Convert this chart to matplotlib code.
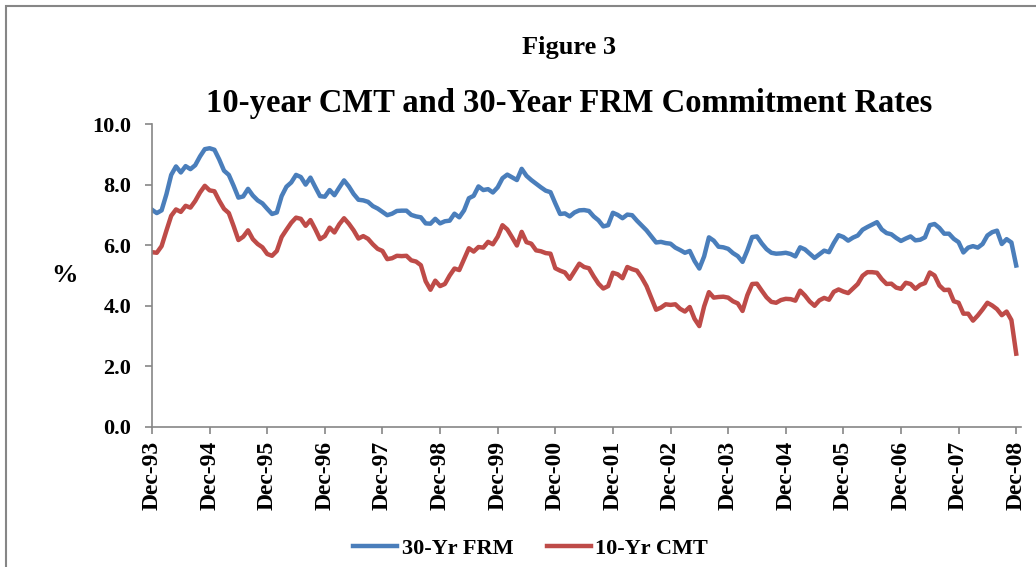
import matplotlib.pyplot as plt
import matplotlib.patches as mpatches

# monthly rates, Dec-93 .. Dec-08
frm_30yr = [
    7.17,
    7.06, 7.15, 7.68, 8.32, 8.60, 8.40, 8.61, 8.51, 8.64, 8.93, 9.17, 9.20,
    9.15, 8.83, 8.46, 8.32, 7.96, 7.57, 7.61, 7.86, 7.64, 7.48, 7.38, 7.20,
    7.03, 7.08, 7.62, 7.93, 8.07, 8.32, 8.25, 8.00, 8.23, 7.92, 7.62, 7.60,
    7.82, 7.65, 7.90, 8.14, 7.94, 7.69, 7.50, 7.48, 7.43, 7.29, 7.21, 7.10,
    6.99, 7.04, 7.13, 7.14, 7.14, 7.00, 6.95, 6.92, 6.72, 6.71, 6.87, 6.72,
    6.79, 6.81, 7.04, 6.92, 7.15, 7.55, 7.63, 7.94, 7.82, 7.85, 7.74, 7.91,
    8.21, 8.33, 8.24, 8.15, 8.52, 8.29, 8.15, 8.03, 7.91, 7.80, 7.75, 7.38,
    7.03, 7.05, 6.95, 7.08, 7.15, 7.16, 7.13, 6.95, 6.82, 6.62, 6.66, 7.07,
    7.00, 6.89, 7.01, 6.99, 6.81, 6.65, 6.49, 6.29, 6.09, 6.11, 6.07, 6.05,
    5.92, 5.84, 5.75, 5.81, 5.48, 5.23, 5.63, 6.26, 6.15, 5.95, 5.93, 5.88,
    5.74, 5.64, 5.45, 5.83, 6.27, 6.29, 6.06, 5.87, 5.75, 5.72, 5.73, 5.75,
    5.71, 5.63, 5.93, 5.86, 5.72, 5.58, 5.70, 5.82, 5.77, 6.07, 6.33, 6.27,
    6.15, 6.25, 6.32, 6.51, 6.60, 6.68, 6.76, 6.52, 6.40, 6.36, 6.24, 6.14,
    6.22, 6.29, 6.16, 6.18, 6.26, 6.66, 6.70, 6.57, 6.38, 6.38, 6.21, 6.10,
    5.76, 5.92, 5.97, 5.92, 6.04, 6.32, 6.43, 6.48, 6.04, 6.20, 6.09, 5.33,
]

cmt_10yr = [
    5.77,
    5.75, 5.97, 6.48, 6.97, 7.18, 7.10, 7.30, 7.24, 7.46, 7.74, 7.96, 7.81,
    7.78, 7.47, 7.20, 7.06, 6.63, 6.17, 6.28, 6.49, 6.20, 6.04, 5.93, 5.71,
    5.65, 5.81, 6.27, 6.51, 6.74, 6.91, 6.87, 6.64, 6.83, 6.53, 6.20, 6.30,
    6.58, 6.42, 6.69, 6.89, 6.71, 6.49, 6.22, 6.30, 6.21, 6.03, 5.88, 5.81,
    5.54, 5.57, 5.65, 5.64, 5.65, 5.50, 5.46, 5.34, 4.81, 4.53, 4.83, 4.65,
    4.72, 5.00, 5.23, 5.18, 5.54, 5.90, 5.79, 5.94, 5.92, 6.11, 6.03, 6.28,
    6.66, 6.52, 6.26, 5.99, 6.44, 6.10, 6.05, 5.83, 5.80, 5.74, 5.72, 5.24,
    5.16, 5.10, 4.89, 5.14, 5.39, 5.28, 5.24, 4.97, 4.73, 4.57, 4.65, 5.09,
    5.04, 4.91, 5.28, 5.21, 5.16, 4.93, 4.65, 4.26, 3.87, 3.94, 4.05, 4.03,
    4.05, 3.90, 3.81, 3.96, 3.57, 3.33, 3.98, 4.45, 4.27, 4.29, 4.30, 4.27,
    4.15, 4.08, 3.83, 4.35, 4.72, 4.73, 4.50, 4.28, 4.13, 4.10, 4.19, 4.23,
    4.22, 4.17, 4.50, 4.34, 4.14, 4.00, 4.18, 4.26, 4.20, 4.46, 4.54, 4.47,
    4.42, 4.57, 4.72, 4.99, 5.11, 5.11, 5.09, 4.88, 4.72, 4.73, 4.60, 4.56,
    4.76, 4.72, 4.56, 4.69, 4.75, 5.10, 5.00, 4.67, 4.52, 4.53, 4.15, 4.10,
    3.74, 3.74, 3.51, 3.68, 3.88, 4.10, 4.01, 3.89, 3.69, 3.81, 3.53, 2.42,
]

year_labels = ['Dec-93', 'Dec-94', 'Dec-95', 'Dec-96', 'Dec-97', 'Dec-98',
               'Dec-99', 'Dec-00', 'Dec-01', 'Dec-02', 'Dec-03', 'Dec-04',
               'Dec-05', 'Dec-06', 'Dec-07', 'Dec-08']

serif = ['Liberation Serif', 'DejaVu Serif']
plt.rcParams['font.family'] = serif
plt.rcParams['font.weight'] = 'bold'
plt.rcParams['axes.labelweight'] = 'bold'

fig = plt.figure(figsize=(10.36, 5.67), dpi=100)
ax = fig.add_axes([152/1036, 140/567, 869/1036, 303/567])

months = list(range(len(frm_30yr)))
l1, = ax.plot(months, frm_30yr, color='#4A7EBB', lw=3.2, solid_joinstyle='round')
l2, = ax.plot(months, cmt_10yr, color='#BE4B48', lw=3.2, solid_joinstyle='round')

ax.set_xlim(0, 181)
ax.set_ylim(0, 10)
ax.set_yticks([0, 2, 4, 6, 8, 10])
ax.set_yticklabels(['%.1f' % v for v in [0, 2, 4, 6, 8, 10]], fontsize=16)
ax.set_xticks([12*i for i in range(len(year_labels))])
ax.set_xticklabels(year_labels, rotation=90, fontsize=17)

for s in ['top', 'right']:
    ax.spines[s].set_visible(False)
for s in ['left', 'bottom']:
    ax.spines[s].set_color('#868686')
    ax.spines[s].set_linewidth(1.2)
ax.tick_params(axis='both', colors='#868686', length=5, width=1.2,
               labelcolor='black')
ax.tick_params(axis='x', pad=5)
ax.tick_params(axis='y', pad=10)

ax.set_ylabel('%', rotation=0, fontsize=19, fontweight='bold',
              labelpad=20, va='center')

fig.text(0.549, 0.917, 'Figure 3', ha='center', va='center', fontsize=19)
fig.text(0.549, 0.817, '10-year CMT and 30-Year FRM Commitment Rates',
         ha='center', va='center', fontsize=23.5)

fig.legend([l1, l2], ['30-Yr FRM', '10-Yr CMT'], loc='center',
           bbox_to_anchor=(0.512, 0.033), ncol=2, frameon=False,
           fontsize=16, handlelength=2.0, handletextpad=0.2, columnspacing=1.5)

# outer chart border
fig.patches.append(mpatches.Rectangle((6/1036, -0.05), 1.1, 1 - 6/567 + 0.05,
                   transform=fig.transFigure, fill=False,
                   edgecolor='#868686', lw=1.5))

fig.savefig('out.png', dpi=100)
